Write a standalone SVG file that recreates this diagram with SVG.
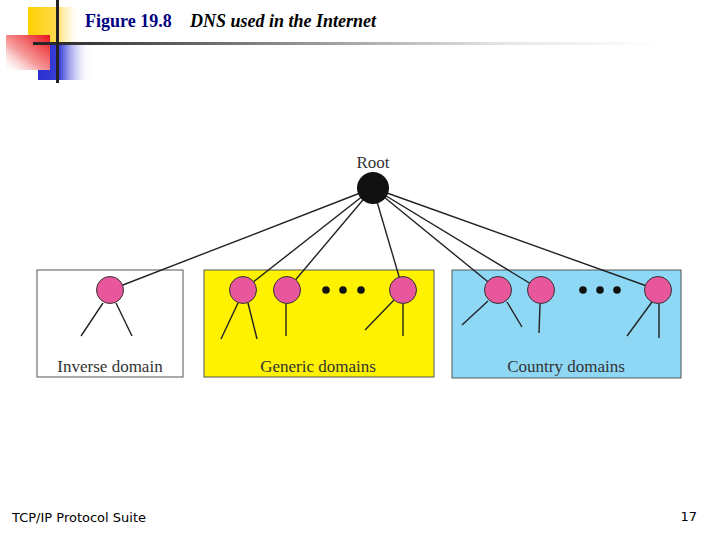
<svg xmlns="http://www.w3.org/2000/svg" width="720" height="540" viewBox="0 0 720 540">
<defs>
<linearGradient id="gY" x1="0" y1="0" x2="1" y2="0"><stop offset="0" stop-color="#FFD200"/><stop offset="0.5" stop-color="#FFD84a"/><stop offset="1" stop-color="#FFFFFF" stop-opacity="0"/></linearGradient>
<linearGradient id="gR" x1="1" y1="0" x2="0" y2="1"><stop offset="0" stop-color="#E8141A"/><stop offset="0.6" stop-color="#F7A0A0"/><stop offset="1" stop-color="#FFFFFF" stop-opacity="0.3"/></linearGradient>
<linearGradient id="gB" x1="0" y1="0" x2="1" y2="0"><stop offset="0" stop-color="#2A2FD0"/><stop offset="0.4" stop-color="#3A40D8"/><stop offset="1" stop-color="#FFFFFF" stop-opacity="0"/></linearGradient>
<linearGradient id="gL" x1="0" y1="0" x2="1" y2="0"><stop offset="0" stop-color="#222222"/><stop offset="0.45" stop-color="#9a9a9a"/><stop offset="0.75" stop-color="#e6e6e6"/><stop offset="1" stop-color="#FFFFFF"/></linearGradient>
</defs>
<style>
.box{stroke:#555;stroke-width:1}
.lbl{font-family:"Liberation Serif","Times New Roman",serif;font-size:17px;fill:#333;text-anchor:middle}
.node{fill:#E8569C;stroke:#333;stroke-width:1}
.edge{stroke:#222;stroke-width:1.4;fill:none}
.dot{fill:#111}
</style>
<rect width="720" height="540" fill="#fff"/>
<g id="header">
<rect x="28" y="7" width="54" height="38" fill="url(#gY)"/>
<rect x="38" y="43" width="54" height="37" fill="url(#gB)"/>
<rect x="6" y="35" width="44" height="35" fill="url(#gR)"/>
<rect x="33" y="42" width="630" height="3" fill="url(#gL)"/>
<rect x="56" y="0" width="3" height="83" fill="#222"/>
<text x="85" y="27" font-family="Liberation Serif,serif" font-size="18" font-weight="bold" fill="#000080">Figure 19.8</text>
<text x="190" y="27" font-family="Liberation Serif,serif" font-size="18" font-weight="bold" font-style="italic" fill="#000">DNS used in the Internet</text>
</g>
<g id="boxes">
<g id="inverse"><rect class="box" x="37" y="270" width="146" height="107" fill="#fff"/><text class="lbl" x="110" y="372">Inverse domain</text></g>
<g id="generic"><rect class="box" x="204" y="270" width="230" height="107" fill="#FFF200"/><text class="lbl" x="318" y="372">Generic domains</text></g>
<g id="country"><rect class="box" x="452" y="270" width="229" height="108" fill="#8ED8F6"/><text class="lbl" x="566" y="372">Country domains</text></g>
</g>
<g id="connectors">
<line class="edge" x1="373" y1="188" x2="110" y2="290"/>
<line class="edge" x1="373" y1="188" x2="243" y2="290"/>
<line class="edge" x1="373" y1="188" x2="287" y2="290"/>
<line class="edge" x1="373" y1="188" x2="403" y2="290"/>
<line class="edge" x1="373" y1="188" x2="498" y2="290"/>
<line class="edge" x1="373" y1="188" x2="541" y2="290"/>
<line class="edge" x1="373" y1="188" x2="658" y2="290"/>
<line class="edge" x1="103" y1="303" x2="81" y2="336"/>
<line class="edge" x1="116" y1="303" x2="132" y2="336"/>
<line class="edge" x1="238" y1="303" x2="221" y2="339"/>
<line class="edge" x1="248" y1="303" x2="257" y2="339"/>
<line class="edge" x1="286" y1="304" x2="286" y2="336"/>
<line class="edge" x1="394" y1="300" x2="365" y2="330"/>
<line class="edge" x1="403" y1="304" x2="403" y2="336"/>
<line class="edge" x1="488" y1="301" x2="462" y2="325"/>
<line class="edge" x1="507" y1="302" x2="522" y2="327"/>
<line class="edge" x1="540" y1="304" x2="539" y2="333"/>
<line class="edge" x1="652" y1="302" x2="627" y2="336"/>
<line class="edge" x1="659" y1="304" x2="659" y2="338"/>
</g>
<g id="root"><text class="lbl" x="373" y="168">Root</text><circle cx="373" cy="188" r="16" fill="#111"/></g>
<g id="n-inv"><circle class="node" cx="110" cy="290" r="13.5"/></g>
<g id="n-gen1"><circle class="node" cx="243" cy="290" r="13.5"/></g>
<g id="n-gen2"><circle class="node" cx="287" cy="290" r="13.5"/></g>
<g id="dots-gen"><circle class="dot" cx="326" cy="290" r="3.8"/><circle class="dot" cx="343" cy="290" r="3.8"/><circle class="dot" cx="361" cy="290" r="3.8"/></g>
<g id="n-gen3"><circle class="node" cx="403" cy="290" r="13.5"/></g>
<g id="n-cty1"><circle class="node" cx="498" cy="290" r="13.5"/></g>
<g id="n-cty2"><circle class="node" cx="541" cy="290" r="13.5"/></g>
<g id="dots-cty"><circle class="dot" cx="583" cy="290" r="3.8"/><circle class="dot" cx="600" cy="290" r="3.8"/><circle class="dot" cx="617" cy="290" r="3.8"/></g>
<g id="n-cty3"><circle class="node" cx="658" cy="290" r="13.5"/></g>
<g id="footer">
<text x="12" y="522" font-family="DejaVu Sans,sans-serif" font-size="13" fill="#000">TCP/IP Protocol Suite</text>
<text x="697" y="521" text-anchor="end" font-family="DejaVu Sans,sans-serif" font-size="13" fill="#000">17</text>
</g>
</svg>
